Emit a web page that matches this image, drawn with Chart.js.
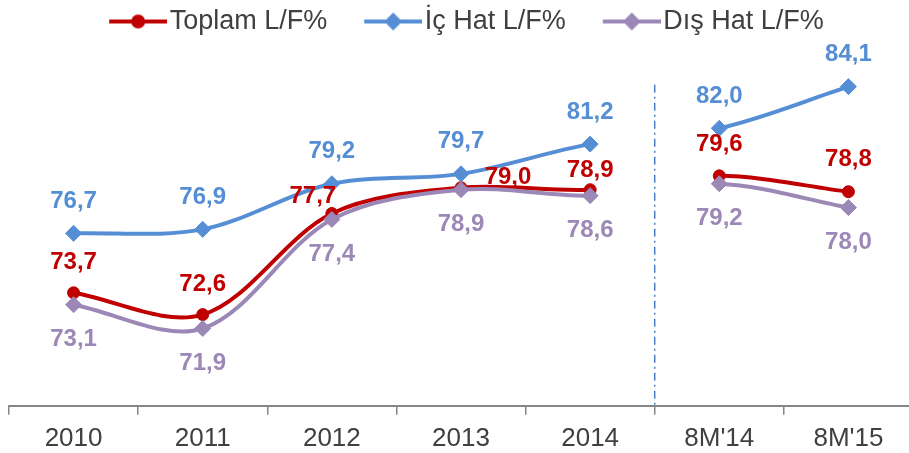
<!DOCTYPE html>
<html>
<head>
<meta charset="utf-8">
<script src="https://cdn.jsdelivr.net/npm/chart.js@4/dist/chart.umd.min.js"></script>
<style>
  html, body { margin: 0; padding: 0; background: #fff; overflow: hidden; }
  #wrap { position: relative; width: 922px; height: 453px; }
</style>
</head>
<body>
<div id="wrap"><canvas id="lfChart"></canvas></div>
<script>
const categories = ['2010', '2011', '2012', '2013', '2014', "8M'14", "8M'15"];
const toplam = [73.7, 72.6, 77.7, 79.0, 78.9, 79.6, 78.8];
const icHat = [76.7, 76.9, 79.2, 79.7, 81.2, 82.0, 84.1];
const disHat = [73.1, 71.9, 77.4, 78.9, 78.6, 79.2, 78.0];
const seriesNames = ['Toplam L/F%', 'İç Hat L/F%', 'Dış Hat L/F%'];

const RED = '#C00000', BLUE = '#558ED5', PURPLE = '#9C88B6';
const TEXT = '#404040';
const FONT = 'Arial, "Liberation Sans", sans-serif';

// label nudges (px) for the total series, the others sit plainly above / below
const redLabelShift = [[0, -30], [0, -30], [-19, -17], [47, -10], [0, -19], [0, -31], [0, -32]];

// the line is broken between the yearly and the 8-month figures
const breakAt = 4;
const gapSegment = { borderColor: ctx => ctx.p0DataIndex === breakAt ? 'transparent' : undefined };

// legend swatch: line with marker, blank space on the left acts as the gap to the previous item
function legendIcon(color, shape) {
  const c = document.createElement('canvas');
  c.width = 98; c.height = 20;
  const g = c.getContext('2d');
  g.strokeStyle = color; g.lineWidth = 4;
  g.beginPath(); g.moveTo(40, 10); g.lineTo(98, 10); g.stroke();
  g.fillStyle = color;
  g.beginPath();
  if (shape === 'circle') {
    g.arc(69, 10, 7, 0, Math.PI * 2);
  } else {
    g.moveTo(69, 1); g.lineTo(78, 10); g.lineTo(69, 19); g.lineTo(60, 10); g.closePath();
  }
  g.fill();
  return c;
}

const labelPlugin = {
  id: 'valueLabels',
  afterDatasetsDraw(chart) {
    const ctx = chart.ctx;
    ctx.save();
    ctx.font = 'bold 24px ' + FONT;
    ctx.textAlign = 'center';
    ctx.textBaseline = 'middle';
    chart.data.datasets.forEach((ds, di) => {
      const meta = chart.getDatasetMeta(di);
      ctx.fillStyle = ds.borderColor;
      meta.data.forEach((pt, i) => {
        let dx = 0, dy = 0;
        if (di === 0) { dx = redLabelShift[i][0]; dy = redLabelShift[i][1]; }
        else if (di === 1) dy = -32;
        else dy = 35;
        ctx.fillText(ds.data[i].toFixed(1).replace('.', ','), pt.x + dx, pt.y + dy);
      });
    });
    ctx.restore();
  }
};

const dividerPlugin = {
  id: 'divider',
  beforeDatasetsDraw(chart) {
    const xs = chart.scales.x, ys = chart.scales.y;
    const x = (xs.getPixelForValue(breakAt) + xs.getPixelForValue(breakAt + 1)) / 2;
    const ctx = chart.ctx;
    ctx.save();
    ctx.strokeStyle = '#4A7EC4';
    ctx.lineWidth = 1.5;
    ctx.setLineDash([8, 4, 2, 4]);
    ctx.beginPath();
    ctx.moveTo(x, ys.getPixelForValue(84.2));
    ctx.lineTo(x, ys.bottom);
    ctx.stroke();
    ctx.restore();
  }
};

// nudge the legend row a little to the left, like the original
const legendShift = {
  id: 'legendShift',
  afterLayout(chart) {
    chart.legend.left -= 12;
    chart.legend.right -= 12;
  }
};

const common = { borderWidth: 4, tension: 0.33, fill: false, segment: gapSegment, pointBorderWidth: 1 };

new Chart(document.getElementById('lfChart'), {
  type: 'line',
  data: {
    labels: categories,
    datasets: [
      Object.assign({ label: seriesNames[0], data: toplam, borderColor: RED, backgroundColor: RED,
        pointStyle: 'circle', pointRadius: 6, order: 3 }, common),
      Object.assign({ label: seriesNames[1], data: icHat, borderColor: BLUE, backgroundColor: BLUE,
        pointStyle: 'rectRot', pointRadius: 8, order: 2 }, common),
      Object.assign({ label: seriesNames[2], data: disHat, borderColor: PURPLE, backgroundColor: PURPLE,
        pointStyle: 'rectRot', pointRadius: 8, order: 1 }, common)
    ]
  },
  options: {
    responsive: true,
    maintainAspectRatio: false,
    animation: false,
    layout: { padding: { left: 7, right: 1, top: 0, bottom: -9 } },
    plugins: {
      tooltip: { enabled: false },
      legend: {
        position: 'top',
        labels: {
          usePointStyle: true,
          pointStyleWidth: 76,
          padding: 8,
          color: TEXT,
          font: { size: 27, family: FONT },
          generateLabels: chart => chart.data.datasets.map((ds, i) => ({
            text: ds.label,
            pointStyle: legendIcon(ds.borderColor, i === 0 ? 'circle' : 'diamond'),
            fillStyle: ds.borderColor,
            strokeStyle: ds.borderColor,
            fontColor: TEXT,
            lineWidth: 0,
            hidden: false,
            datasetIndex: i
          }))
        }
      }
    },
    scales: {
      x: {
        offset: true,
        grid: { offset: true, drawOnChartArea: false, drawTicks: true, tickLength: 9, color: '#868686', lineWidth: 1.5 },
        border: { color: '#868686', width: 2 },
        ticks: { color: TEXT, font: { size: 26, family: FONT }, padding: 8 }
      },
      y: { display: false, min: 68, max: 86.2 }
    }
  },
  plugins: [labelPlugin, dividerPlugin, legendShift]
});
</script>
</body>
</html>
